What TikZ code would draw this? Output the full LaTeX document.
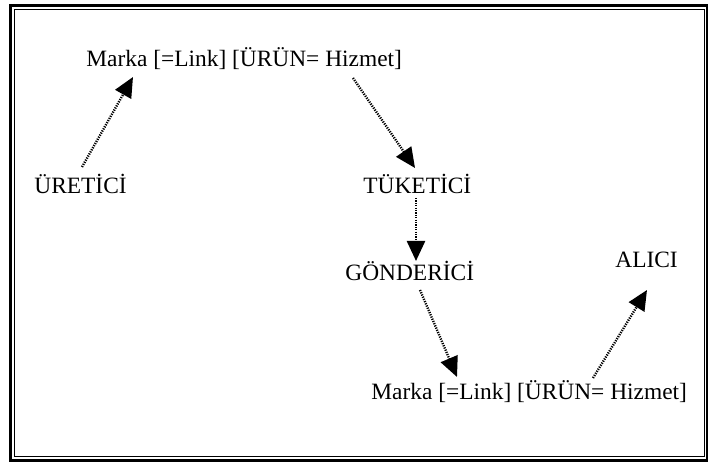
\documentclass[tikz,border=0pt]{standalone}
\usepackage{fontspec}
\setmainfont{Liberation Serif}
\usetikzlibrary{arrows.meta}
\begin{document}
\begin{tikzpicture}[x=0.5pt,y=-0.5pt,
  lbl/.style={inner sep=0pt, anchor=base west, font=\fontsize{11.7}{13}\selectfont},
  arr/.style={line width=1.2pt, dash pattern=on 0.6pt off 0.6pt,
    -{Triangle[length=10pt,width=9pt]}},
  outerframe/.style={line width=1.4pt},
  innerframe/.style={line width=0.5pt}]
\useasboundingbox (0,0) rectangle (708,464);
\draw[outerframe] (10.7,5.3) rectangle (707.3,460.3);
\draw[innerframe] (14,10) rectangle (704,457);

\node[lbl] (m1) at (86,66.7) {Marka [=Link] [ÜRÜN= Hizmet]};
\node[lbl] (ure) at (34,193.5) {ÜRETİCİ};
\node[lbl] (tuk) at (363,193.5) {TÜKETİCİ};
\node[lbl] (gon) at (345,281) {GÖNDERİCİ};
\node[lbl] (alc) at (615,267.5) {ALICI};
\node[lbl] (m2) at (371,400) {Marka [=Link] [ÜRÜN= Hizmet]};

\coordinate (a1s) at (82,167);  \coordinate (a1t) at (133,77);
\coordinate (a2s) at (353,78);  \coordinate (a2t) at (415,168);
\coordinate (a3s) at (416,198); \coordinate (a3t) at (416,261);
\coordinate (a4s) at (420,290); \coordinate (a4t) at (457,377);
\coordinate (a5s) at (593,378); \coordinate (a5t) at (647,290);

\draw[arr] (a1s) -- (a1t);
\draw[arr] (a2s) -- (a2t);
\draw[arr] (a3s) -- (a3t);
\draw[arr] (a4s) -- (a4t);
\draw[arr] (a5s) -- (a5t);
\end{tikzpicture}
\end{document}
